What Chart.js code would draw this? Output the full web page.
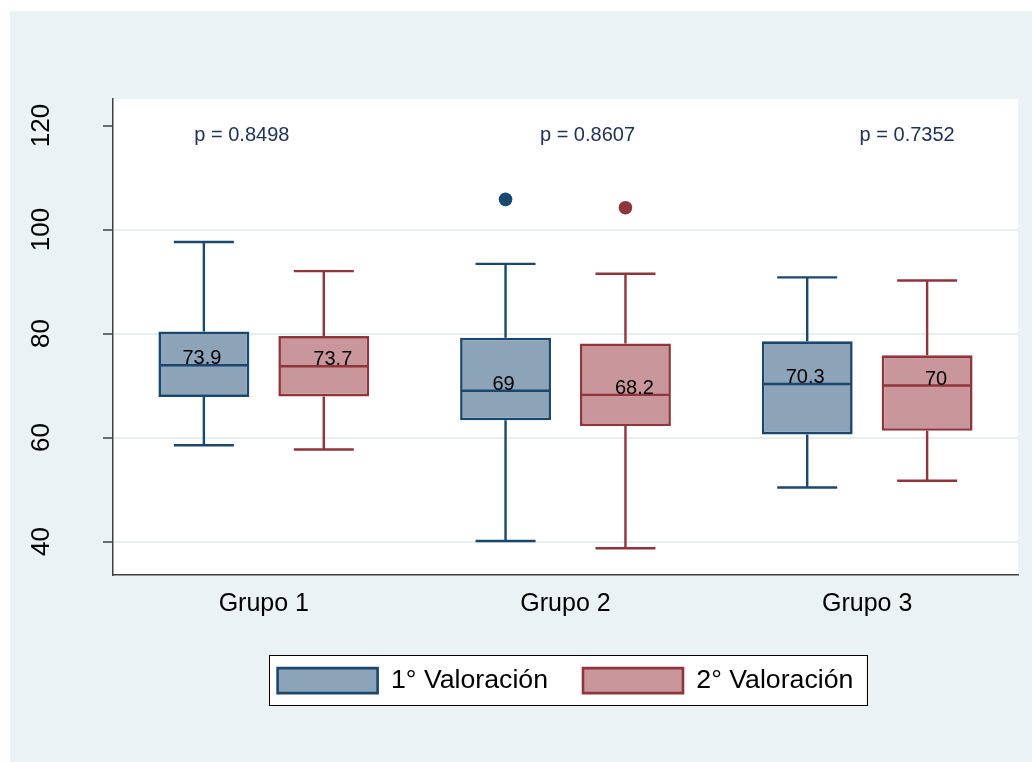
<!DOCTYPE html>
<html>
<head>
<meta charset="utf-8">
<title>Valoraciones por grupo</title>
<script src="https://cdn.jsdelivr.net/npm/chart.js@4/dist/chart.umd.min.js"></script>
<style>
  body { margin: 0; background: #fff; }
  #wrap { position: absolute; left: 10px; top: 11px; width: 1022px; height: 751px; background: #eaf2f3; }
</style>
</head>
<body>
<div id="wrap"><canvas id="boxChart" width="1022" height="751"></canvas></div>
<script>
const groups = ['Grupo 1', 'Grupo 2', 'Grupo 3'];
const seriesNames = ['1° Valoración', '2° Valoración'];
const yTicks = [40, 60, 80, 100, 120];

// [min, q1, median, q3, max] for each group
const valoracion1 = [
    [58.5, 67.8, 73.9, 80.4, 97.6],
    [40.1, 63.3, 69.0, 79.2, 93.4],
    [50.4, 60.6, 70.3, 78.5, 90.8]
];
const valoracion2 = [
    [57.7, 67.9, 73.7, 79.5, 92.0],
    [38.7, 62.2, 68.2, 78.1, 91.5],
    [51.7, 61.3, 70.0, 75.8, 90.2]
];
const outliers1 = [[], [105.8], []];
const outliers2 = [[], [104.2], []];
const pValues = ['0.8498', '0.8607', '0.7352'];

const FONT = '"Liberation Sans", Arial, sans-serif';
Chart.defaults.font.family = FONT;
Chart.defaults.color = '#000';

function fmtMedian(v) {
    return String(Number(v.toFixed(1)));
}

// whiskers, medians, outliers and text that a bar chart doesn't draw by itself
const boxPlotExtras = {
    id: 'boxPlotExtras',
    beforeDraw(chart) {
        const { ctx, chartArea: a } = chart;
        ctx.save();
        ctx.fillStyle = '#fff';
        ctx.fillRect(a.left, a.top, a.right - a.left, a.bottom - a.top);

        // framed legend
        const boxes = chart.legend.legendHitBoxes || [];
        if (boxes.length) {
            const l = Math.min(...boxes.map(b => b.left)) - 9;
            const r = Math.max(...boxes.map(b => b.left + b.width)) + 13;
            const t = Math.min(...boxes.map(b => b.top)) - 12;
            const btm = Math.max(...boxes.map(b => b.top + b.height)) + 11;
            ctx.fillRect(l, t, r - l, btm - t);
            ctx.strokeStyle = '#000';
            ctx.lineWidth = 1;
            ctx.strokeRect(Math.round(l) + 0.5, Math.round(t) + 0.5, Math.round(r - l), Math.round(btm - t));
        }
        ctx.restore();
    },
    afterDatasetsDraw(chart, args, opts) {
        const { ctx } = chart;
        const y = chart.scales.y;
        const x = chart.scales.x;
        ctx.save();
        chart.data.datasets.forEach((ds, di) => {
            const meta = chart.getDatasetMeta(di);
            meta.data.forEach((bar, i) => {
                const [min, q1, med, q3, max] = ds.stats[i];
                const half = bar.width / 2;
                const cap = bar.width * 0.33;
                const yMed = y.getPixelForValue(med);

                ctx.strokeStyle = ds.borderColor;
                ctx.lineWidth = 2.4;
                ctx.beginPath();
                ctx.moveTo(bar.x - half + 1, yMed);
                ctx.lineTo(bar.x + half - 1, yMed);
                ctx.moveTo(bar.x, y.getPixelForValue(q3));
                ctx.lineTo(bar.x, y.getPixelForValue(max));
                ctx.moveTo(bar.x - cap, y.getPixelForValue(max));
                ctx.lineTo(bar.x + cap, y.getPixelForValue(max));
                ctx.moveTo(bar.x, y.getPixelForValue(q1));
                ctx.lineTo(bar.x, y.getPixelForValue(min));
                ctx.moveTo(bar.x - cap, y.getPixelForValue(min));
                ctx.lineTo(bar.x + cap, y.getPixelForValue(min));
                ctx.stroke();

                ctx.fillStyle = ds.borderColor;
                ds.outliers[i].forEach(v => {
                    ctx.beginPath();
                    ctx.arc(bar.x, y.getPixelForValue(v), 6.8, 0, Math.PI * 2);
                    ctx.fill();
                });

                ctx.fillStyle = '#000';
                ctx.font = '20px ' + FONT;
                ctx.textAlign = 'center';
                ctx.textBaseline = 'alphabetic';
                ctx.fillText(fmtMedian(med), bar.x + ds.labelShift, yMed - 1);
            });
        });

        // p-values above each group
        ctx.fillStyle = '#223159';
        ctx.font = '20px ' + FONT;
        ctx.textAlign = 'center';
        ctx.textBaseline = 'middle';
        pValues.forEach((p, i) => {
            ctx.fillText('p = ' + p, x.getPixelForValue(i) + opts.pShift[i], y.getPixelForValue(118));
        });
        ctx.restore();
    }
};

new Chart(document.getElementById('boxChart'), {
    type: 'bar',
    data: {
        labels: groups,
        datasets: [{
            label: seriesNames[0],
            data: valoracion1.map(s => [s[1], s[3]]),
            stats: valoracion1,
            outliers: outliers1,
            backgroundColor: '#8ca3b8',
            borderColor: '#1a476f',
            borderWidth: 2.6,
            borderSkipped: false,
            labelShift: -2
        }, {
            label: seriesNames[1],
            data: valoracion2.map(s => [s[1], s[3]]),
            stats: valoracion2,
            outliers: outliers2,
            backgroundColor: '#c9979b',
            borderColor: '#90353b',
            borderWidth: 2.6,
            borderSkipped: false,
            labelShift: 9
        }]
    },
    options: {
        responsive: false,
        animation: false,
        layout: { padding: { top: 88, right: 14, bottom: 58, left: 0 } },
        datasets: {
            bar: { categoryPercentage: 0.795, barPercentage: 0.758 }
        },
        plugins: {
            tooltip: { enabled: false },
            legend: {
                position: 'bottom',
                fullSize: false,
                labels: {
                    boxWidth: 100,
                    boxHeight: 25,
                    padding: 35,
                    color: '#000',
                    font: { size: 26.7 }
                }
            },
            boxPlotExtras: { pShift: [-22, 22, 40] }
        },
        scales: {
            x: {
                afterFit: s => { s.height = 57.5; },
                grid: { display: false, drawTicks: false },
                border: { color: '#404040', width: 1.5 },
                ticks: { color: '#000', padding: 14, font: { size: 25 } }
            },
            y: {
                min: 33.6,
                max: 125.1,
                afterBuildTicks: s => { s.ticks = yTicks.map(v => ({ value: v })); },
                afterFit: s => { s.width = 103; },
                grid: {
                    color: c => (c.tick && c.tick.value === 120) ? 'rgba(0,0,0,0)' : '#e6eef0',
                    lineWidth: 2,
                    tickColor: '#404040',
                    tickWidth: 1.5,
                    tickLength: 10
                },
                border: { color: '#404040', width: 1.5 },
                ticks: {
                    minRotation: 90,
                    maxRotation: 90,
                    crossAlign: 'center',
                    padding: 39,
                    color: '#000',
                    font: { size: 26 }
                }
            }
        }
    },
    plugins: [boxPlotExtras]
});
</script>
</body>
</html>
